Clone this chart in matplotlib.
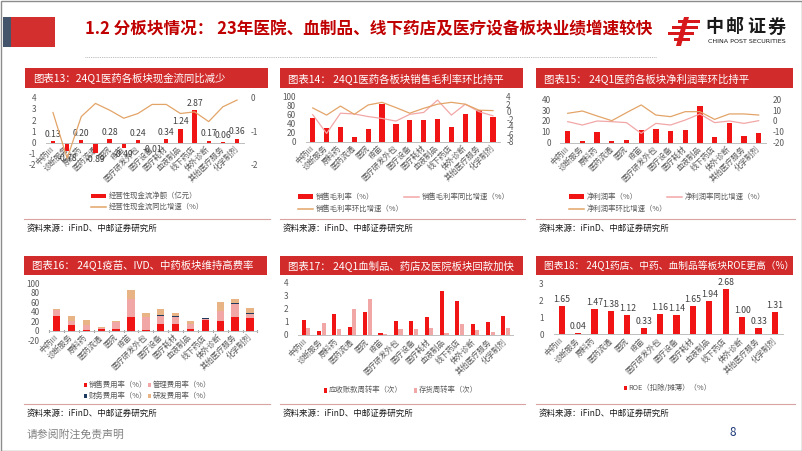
import matplotlib
matplotlib.use('Agg')
import matplotlib.pyplot as plt
from matplotlib.patches import Rectangle, Polygon
import numpy as np

plt.rcParams['font.family'] = ['Noto Sans CJK SC', 'DejaVu Sans']
plt.rcParams['axes.unicode_minus'] = False

W, H = 802, 451

# ---------------- data ----------------
categories = ['中药III', '诊断服务', '原料药', '医药流通', '医院', '疫苗', '医疗研发外包',
              '医疗设备', '医疗耗材', '血液制品', '线下药店', '体外诊断', '其他医疗服务', '化学制剂']

# chart 13
cf_net = [0.13, -0.78, 0.20, -0.89, 0.28, -0.49, 0.24, -0.01, 0.34, 1.24, 2.87, 0.17, 0.06, 0.36]
cf_yoy = [-0.44, -1.80, -0.56, -0.17, -0.37, -0.61, -0.47, -0.20, -0.20, -0.47, -0.42, -0.71, -0.27, -0.07]
cf_names = ['经营性现金流净额（亿元）', '经营性现金流同比增速（%）']

# chart 14
gm = [53, 31, 33, 10, 28, 83, 38.5, 49, 49, 51, 33, 62, 70, 56]
gm_yoy = [-0.8, -5.8, -0.4, -0.6, -1.3, -1.8, -2.5, -0.7, -0.2, 3.1, -0.9, 2.0, 0.0, -1.1]
gm_qoq = [1.0, -0.9, 1.5, -0.7, 1.8, 2.5, 1.1, -0.4, 0.9, 2.0, 2.5, 2.0, 0.4, 0.3]
gm_names = ['销售毛利率（%）', '销售毛利率同比增速（%）', '销售毛利率环比增速（%）']

# chart 15
nm = [10.8, 1.2, 9.8, 1.5, 2.5, 12, 12.9, 10.8, 12, 33.8, 5.5, 18.5, 5.8, 8.9]
nm_yoy = [-0.6, -3.7, 0.0, -0.6, -1.5, -11.4, -2.2, -3.7, 0.9, 6.5, -1.5, 0.0, -2.2, 0.3]
nm_qoq = [7.1, 9.2, 4.6, 0.3, 7.7, 14.8, 5.5, 4.0, 8.6, 8.6, 1.5, 6.5, 6.5, 5.5]
nm_names = ['净利润率（%）', '净利润率同比增速（%）', '净利润率环比增速（%）']

# chart 16
sell_rate = [32, 11.5, 2.5, 4.5, 3.5, 30, 2.5, 15, 14, 3, 22, 20, 30, 26]
admin_rate = [12, 9, 9, 2, 14, 36, 26, 17, 16, 12, 3.5, 22, 27, 10]
fin_rate = [0.5, 0.5, 0.5, 0.4, 1, 0.5, 0.5, 0.5, 0.5, 0.3, 0.5, 0.5, 1, 1]
rd_rate = [1.5, 10, 10, 0.2, 1.5, 19.5, 8, 13.5, 7.5, 5.7, 0.2, 17.5, 10, 10]
exp_names = ['销售费用率（%）', '管理费用率（%）', '财务费用率（%）', '研发费用率（%）']

# chart 17
ar_turn = [1.15, 0.33, 1.58, 0.64, 1.78, 0.18, 1.07, 1.07, 1.40, 3.39, 2.60, 0.84, 1.02, 1.45]
inv_turn = [0.50, 0.94, 0.46, 1.96, 2.73, 0.10, 0.46, 0.43, 0.51, 0.18, 0.87, 0.36, 0.25, 0.56]
turn_names = ['应收账款周转率（次）', '存货周转率（次）']

# chart 18
roe = [1.65, 0.04, 1.47, 1.38, 1.12, 0.33, 1.16, 1.14, 1.65, 1.94, 2.68, 1.00, 0.33, 1.31]
roe_names = ['ROE（扣除/摊薄）（%）']

titles = ['图表13：24Q1医药各板块现金流同比减少',
          '图表14： 24Q1医药各板块销售毛利率环比持平',
          '图表15： 24Q1医药各板块净利润率环比持平',
          '图表16： 24Q1疫苗、IVD、中药板块维持高费率',
          '图表17： 24Q1血制品、药店及医院板块回款加快',
          '图表18： 24Q1药店、中药、血制品等板块ROE更高（%）']
source = '资料来源：iFinD、中邮证券研究所'
main_title = '1.2 分板块情况： 23年医院、血制品、线下药店及医疗设备板块业绩增速较快'

# ---------------- styles ----------------
RED = '#F01414'
BANNER = '#D22B2B'
PINK = '#F2A7A7'
ORANGE = '#E3A468'
TAN = '#E8B486'
NAVY = '#1F3A5F'
GRAY = '#595959'
AX = '#BFBFBF'

fig = plt.figure(figsize=(W / 100, H / 100), dpi=100)
fig.patch.set_facecolor('white')

bg = fig.add_axes([0, 0, 1, 1])
bg.set_xlim(0, W)
bg.set_ylim(H, 0)
bg.axis('off')


def ax_px(x0, y0, x1, y1):
    a = fig.add_axes([x0 / W, 1 - y1 / H, (x1 - x0) / W, (y1 - y0) / H])
    a.patch.set_alpha(0)
    return a


def style_cat(ax, n):
    for s in ['top', 'right', 'left']:
        ax.spines[s].set_visible(False)
    ax.spines['bottom'].set_position(('data', 0))
    ax.spines['bottom'].set_color(AX)
    ax.spines['bottom'].set_linewidth(0.7)
    ax.set_xlim(-0.5, n - 0.5)
    ax.set_xticks(range(n))
    ax.set_xticklabels(categories, fontsize=5.6, color=GRAY)
    for t in ax.get_xticklabels():
        t.set_rotation(45)
        t.set_rotation_mode('anchor')
        t.set_ha('right')
        t.set_va('center')
    ax.tick_params(axis='x', length=0, pad=4)
    ax.tick_params(axis='y', length=0, pad=7, labelsize=5.9, labelcolor=GRAY)


def style_twin(tw):
    for s in ['top', 'right', 'left', 'bottom']:
        tw.spines[s].set_visible(False)
    tw.tick_params(axis='y', length=0, pad=4.5, labelsize=5.9, labelcolor=GRAY)
    tw.patch.set_alpha(0)


def banner(x0, y0, x1, y1, text, fs=7.5):
    bg.add_patch(Rectangle((x0, y0), x1 - x0, y1 - y0, color=BANNER, lw=0))
    bg.text(x0 + 8, (y0 + y1) / 2 + 0.5, text, color='white', fontsize=fs,
            va='center', ha='left')


def src(x0, x1, yline, ytext):
    bg.plot([x0, x1], [yline, yline], color='#D9A3A3', lw=0.8)
    bg.text(x0 + 3, ytext, source, fontsize=6.1, color='#1A1A1A', va='center',
            ha='left', fontweight='medium')


def leg_bar(x, y, label, color, w=15, h=4.5):
    bg.add_patch(Rectangle((x, y - h / 2), w, h, color=color, lw=0))
    bg.text(x + w + 2.5, y, label, fontsize=5.3, color=GRAY, va='center', ha='left')


def leg_line(x, y, label, color, w=15):
    bg.plot([x, x + w], [y, y], color=color, lw=1.1)
    bg.text(x + w + 2.5, y, label, fontsize=5.3, color=GRAY, va='center', ha='left')


def leg_sq(x, y, label, color, w=3.2, h=3.6):
    bg.add_patch(Rectangle((x, y - h / 2), w, h, color=color, lw=0))
    bg.text(x + w + 1.5, y, label, fontsize=5.3, color=GRAY, va='center', ha='left')


n = len(categories)
idx = np.arange(n)

# ---------------- slide decorations ----------------
bg.add_patch(Rectangle((0.5, 0.5), W - 1, H - 1, fill=False, ec='#8C8C8C', lw=1))
bg.add_patch(Rectangle((3, 17), 8, 30, color='#44546A', lw=0))
bg.add_patch(Rectangle((11, 17), 44, 30, color='#D32F2F', lw=0))
bg.text(85, 29, main_title, color='#C00000', fontsize=12.0, fontweight='bold',
        va='center', ha='left')
bg.plot([85, 657], [57, 57], color='#A6A6A6', lw=0.6, ls=(0, (1, 1.2)))

# logo icon (stylised)
for (yy, xa, xb) in [(20, 678, 700), (26, 672, 698), (32, 668, 694), (38, 674, 690)]:
    bg.add_patch(Rectangle((xa, yy), xb - xa, 3.2, color='#D7191C', lw=0))
bg.add_patch(Polygon([[684, 17], [689, 17], [681, 46], [676, 46]], color='#D7191C', lw=0))
for i, ch in enumerate('中邮证券'):
    bg.text(714 + i * 21, 27, ch, fontsize=13, fontweight='bold', color='#1A1A1A',
            va='center', ha='center')
bg.text(747, 41.5, 'CHINA POST SECURITIES', fontsize=4.6, color='#1A1A1A',
        va='center', ha='center', family='DejaVu Sans')

bg.text(27, 434, '请参阅附注免责声明', fontsize=7.8, color='#808080', va='center', ha='left')
bg.text(733, 432, '8', fontsize=8.5, color='#1F3A7A', va='center', ha='center')

# banners & sources
banner(25, 68, 268, 88, titles[0])
banner(280, 68, 523, 88, titles[1])
banner(536, 68, 793, 88, titles[2])
banner(24, 256, 267, 275, titles[3])
banner(280, 256, 523, 275, titles[4])
banner(536, 256, 793, 275, titles[5], fs=7.0)
src(24, 270, 219, 228.5)
src(280, 525, 219, 228.5)
src(536, 795, 219, 228.5)
src(24, 270, 404, 413)
src(280, 525, 404, 413)
src(536, 795, 404, 413)

# ---------------- chart 13 ----------------
ax = ax_px(45.9, 97.7, 244.1, 165)
style_cat(ax, n)
ax.bar(idx, cf_net, width=0.3, color=RED, zorder=2)
ax.set_ylim(-2, 4)
ax.set_yticks([-2, -1, 0, 1, 2, 3, 4])
for i, v in enumerate(cf_net):
    off = 0.2 if v >= 0 else -0.2
    ax.text(i, v + off, f'{v:.2f}', ha='center', va='bottom' if v >= 0 else 'top',
            fontsize=6.2, color='#404040', zorder=4)
tw = ax.twinx()
tw.plot(idx, cf_yoy, color=ORANGE, lw=0.9, zorder=3)
tw.set_ylim(-2, 0)
tw.set_yticks([-2, -1, 0])
style_twin(tw)
leg_bar(91, 196, cf_names[0], RED)
leg_line(91, 207, cf_names[1], ORANGE)

# ---------------- chart 14 ----------------
ax = ax_px(305.8, 96.7, 499.9, 141.7)
style_cat(ax, n)
ax.bar(idx, gm, width=0.38, color=RED, zorder=2)
ax.set_ylim(0, 100)
ax.set_yticks([0, 20, 40, 60, 80, 100])
tw = ax.twinx()
tw.plot(idx, gm_yoy, color=PINK, lw=0.9)
tw.plot(idx, gm_qoq, color=ORANGE, lw=0.9)
tw.set_ylim(-8, 4)
tw.set_yticks([-8, -6, -4, -2, 0, 2, 4])
style_twin(tw)
leg_bar(298, 196.7, gm_names[0], RED)
leg_line(404, 196.7, gm_names[1], PINK)
leg_line(298, 209.3, gm_names[2], ORANGE)

# ---------------- chart 15 ----------------
ax = ax_px(560.4, 99.3, 766, 142.7)
style_cat(ax, n)
ax.bar(idx, nm, width=0.36, color=RED, zorder=2)
ax.set_ylim(0, 40)
ax.set_yticks([0, 10, 20, 30, 40])
tw = ax.twinx()
tw.plot(idx, nm_yoy, color=PINK, lw=0.9)
tw.plot(idx, nm_qoq, color=ORANGE, lw=0.9)
tw.set_ylim(-20, 20)
tw.set_yticks([-20, -10, 0, 10, 20])
style_twin(tw)
leg_bar(569, 196.7, nm_names[0], RED)
leg_line(667, 196.7, nm_names[1], PINK)
leg_line(569, 209.3, nm_names[2], ORANGE)

# ---------------- chart 16 ----------------
ax = ax_px(49.3, 283.3, 257.4, 340.3)
style_cat(ax, n)
b1 = np.array(sell_rate)
b2 = b1 + np.array(admin_rate)
b3 = b2 + np.array(fin_rate)
ax.bar(idx, sell_rate, width=0.5, color=RED, zorder=2)
ax.bar(idx, admin_rate, bottom=b1, width=0.5, color=PINK, zorder=2)
ax.bar(idx, fin_rate, bottom=b2, width=0.5, color=NAVY, zorder=2)
ax.bar(idx, rd_rate, bottom=b3, width=0.5, color=TAN, zorder=2)
ax.set_ylim(-20, 100)
ax.set_yticks([-20, 0, 20, 40, 60, 80, 100])
ax.set_xticks(np.arange(-0.5, n, 1.0), minor=True)
ax.tick_params(axis='x', which='minor', length=2, color='#404040', direction='inout', width=0.8)
leg_sq(84, 385, exp_names[0], RED)
leg_sq(148, 385, exp_names[1], PINK)
leg_sq(84, 395.7, exp_names[2], NAVY)
leg_sq(148, 395.7, exp_names[3], TAN)

# ---------------- chart 17 ----------------
ax = ax_px(298.3, 282.7, 513.4, 335)
style_cat(ax, n)
ax.bar(idx - 0.15, ar_turn, width=0.27, color=RED, zorder=2)
ax.bar(idx + 0.15, inv_turn, width=0.27, color=PINK, zorder=2)
ax.set_ylim(0, 4)
ax.set_yticks([0, 1, 2, 3, 4])
leg_sq(324, 390, turn_names[0], RED, w=3, h=5)
leg_sq(414, 390, turn_names[1], PINK, w=3, h=5)

# ---------------- chart 18 ----------------
ax = ax_px(553.5, 283.3, 783.2, 334)
style_cat(ax, n)
ax.bar(idx, roe, width=0.38, color=RED, zorder=2)
ax.set_ylim(0, 3)
ax.set_yticks([0, 1, 2, 3])
for i, v in enumerate(roe):
    ax.text(i, v + 0.12, f'{v:.2f}', ha='center', va='bottom', fontsize=6.3, color='#404040')
leg_sq(624, 388.3, roe_names[0], RED, w=3, h=4)

fig.savefig('out.png', dpi=100, facecolor='white')
